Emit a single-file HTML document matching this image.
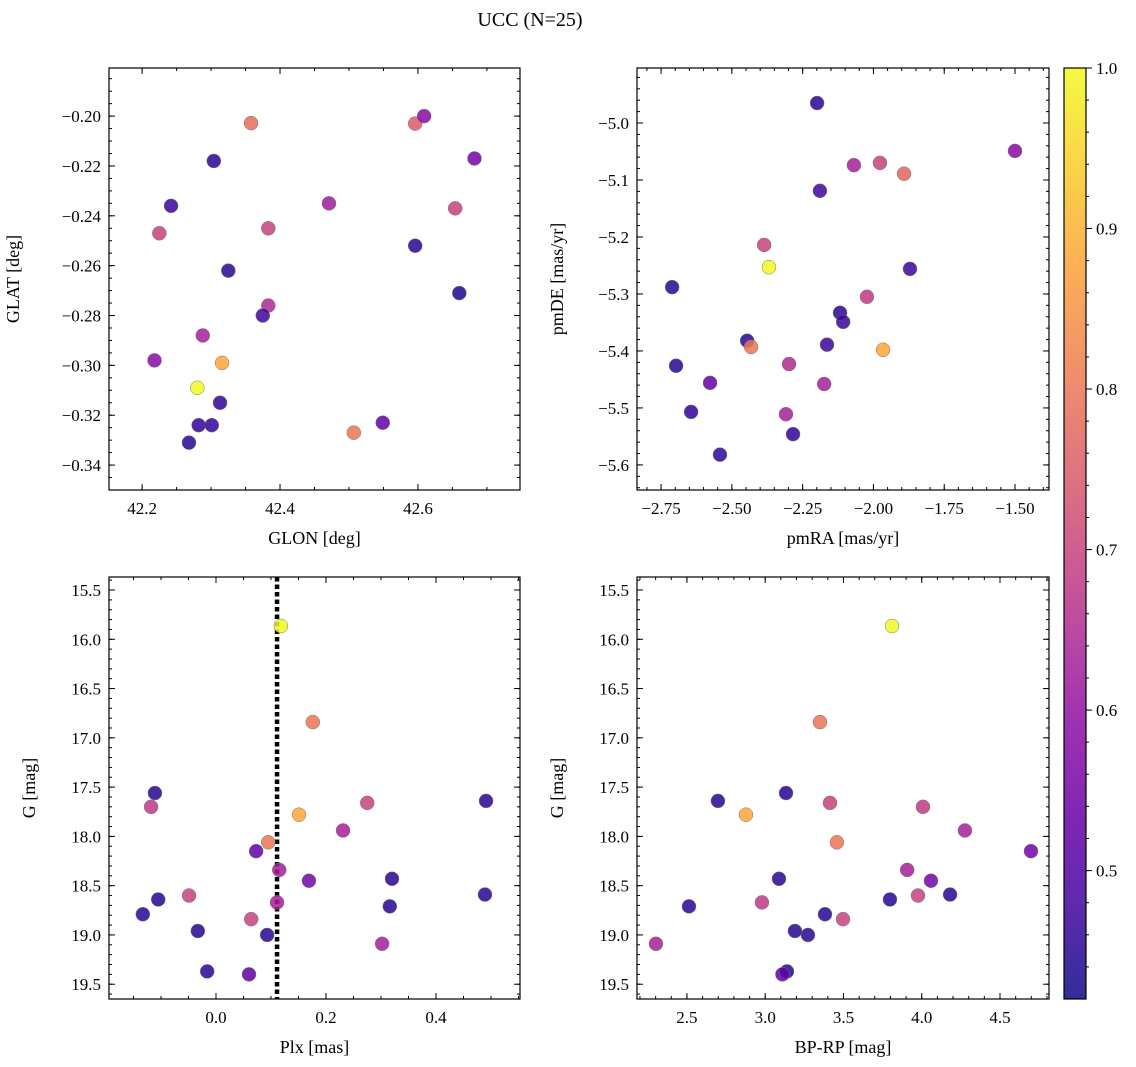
<!DOCTYPE html>
<html><head><meta charset="utf-8"><style>
body{margin:0;background:#fff}
svg{display:block;font-family:"Liberation Serif","DejaVu Serif",serif}
</style></head><body>
<svg id="chart" width="1136" height="1067" viewBox="0 0 1136 1067">
<text x="530" y="26" font-size="20" text-anchor="middle">UCC (N=25)</text>
</svg>
<script>
const probP1 = [0.78,0.75,0.58,0.55,0.45,0.47,0.62,0.7,0.7,0.7,0.45,0.45,0.44,0.65,0.48,0.63,0.58,0.88,1.0,0.46,0.46,0.46,0.8,0.52,0.45];
const glon = [42.358,42.596,42.609,42.682,42.304,42.242,42.471,42.225,42.383,42.654,42.596,42.325,42.660,42.383,42.375,42.288,42.218,42.316,42.280,42.313,42.282,42.301,42.507,42.549,42.268];
const glat = [-0.2028,-0.203,-0.200,-0.217,-0.218,-0.236,-0.235,-0.247,-0.245,-0.237,-0.252,-0.262,-0.271,-0.276,-0.280,-0.288,-0.298,-0.299,-0.309,-0.315,-0.324,-0.324,-0.327,-0.323,-0.331];
const probP2 = [0.45,0.58,0.63,0.7,0.77,0.48,0.7,1.0,0.47,0.45,0.68,0.45,0.47,0.45,0.8,0.47,0.88,0.45,0.65,0.52,0.63,0.63,0.46,0.46,0.46];
const pmra = [-2.199,-1.5,-2.069,-1.977,-1.892,-2.189,-2.386,-2.369,-1.871,-2.711,-2.023,-2.118,-2.107,-2.446,-2.432,-2.164,-1.966,-2.697,-2.298,-2.577,-2.174,-2.309,-2.644,-2.284,-2.542];
const pmde = [-4.965,-5.049,-5.074,-5.070,-5.089,-5.119,-5.214,-5.253,-5.256,-5.288,-5.305,-5.333,-5.349,-5.382,-5.393,-5.389,-5.398,-5.426,-5.423,-5.456,-5.458,-5.511,-5.507,-5.546,-5.582];
const probP3 = [1.0,0.8,0.45,0.68,0.45,0.7,0.88,0.63,0.8,0.52,0.63,0.55,0.45,0.7,0.45,0.45,0.63,0.45,0.45,0.7,0.45,0.45,0.63,0.45,0.52];
const plx = [0.118,0.176,-0.111,-0.118,0.491,0.275,0.151,0.231,0.095,0.073,0.115,0.169,0.32,-0.049,-0.105,0.489,0.111,0.316,-0.133,0.064,-0.033,0.093,0.302,-0.016,0.06];
const gmag3 = [15.865,16.84,17.56,17.70,17.64,17.66,17.78,17.94,18.06,18.15,18.34,18.45,18.43,18.60,18.64,18.59,18.67,18.71,18.79,18.84,18.96,19.0,19.09,19.37,19.40];
const probP4 = [1.0,0.8,0.45,0.45,0.7,0.88,0.68,0.63,0.8,0.55,0.63,0.45,0.55,0.7,0.45,0.45,0.68,0.45,0.45,0.7,0.45,0.45,0.63,0.45,0.52];
const bprp = [3.81,3.35,3.133,2.698,3.414,2.877,4.008,4.276,3.458,4.698,3.907,3.088,4.059,3.976,3.797,4.181,2.979,2.513,3.382,3.497,3.19,3.273,2.302,3.139,3.11];
const gmag4 = [15.865,16.84,17.56,17.64,17.66,17.78,17.70,17.94,18.06,18.15,18.34,18.43,18.45,18.60,18.64,18.59,18.67,18.71,18.79,18.84,18.96,19.0,19.09,19.37,19.40];
const plxLine = 0.111;
const cbTicks = [0.5,0.6,0.7,0.8,0.9,1.0];

const NS='http://www.w3.org/2000/svg';
const svg=document.getElementById('chart');
function el(t,a,p){const e=document.createElementNS(NS,t);for(const k in a)e.setAttribute(k,a[k]);(p||svg).appendChild(e);return e;}
const stops=['#0d0887','#41049d','#6a00a8','#8f0da4','#b12a90','#cc4778','#e16462','#f2844b','#fca636','#fcce25','#f0f921'];
function hex(h){return [1,3,5].map(i=>parseInt(h.substr(i,2),16));}
function plasma(t){t=Math.max(0,Math.min(1,t));const f=t*10,i=Math.min(9,Math.floor(f)),r=f-i;const a=hex(stops[i]),b=hex(stops[i+1]);return 'rgb('+a.map((v,k)=>Math.round(v+(b[k]-v)*r)).join(',')+')';}
const vmin=0.42,vmax=1.0;
function fmt(v,d){const s=Math.abs(v).toFixed(d);return (v< -1e-9?'\u2212':'')+s;}

function panel(o){
  const g=el('g',{},svg);
  
  
  const X=v=>o.x0+(v-o.xmin)/(o.xmax-o.xmin)*(o.x1-o.x0);
  const Y=o.flip ? (v=>o.y0+(v-o.ymin)/(o.ymax-o.ymin)*(o.y1-o.y0)) : (v=>o.y0+(v-o.ymax)/(o.ymin-o.ymax)*(o.y1-o.y0));
  const ticks=(min,max,step)=>{const r=[];for(let v=Math.ceil(min/step-1e-6)*step;v<=max+1e-9;v+=step)r.push(+v.toFixed(6));return r;};
  ticks(o.xmin,o.xmax,o.xminor).forEach(v=>{const x=X(v);el('line',{x1:x,x2:x,y1:o.y1,y2:o.y1-3,stroke:'#000'},g);el('line',{x1:x,x2:x,y1:o.y0,y2:o.y0+3,stroke:'#000'},g);});
  ticks(o.ymin,o.ymax,o.yminor).forEach(v=>{const y=Y(v);el('line',{x1:o.x0,x2:o.x0+3,y1:y,y2:y,stroke:'#000'},g);el('line',{x1:o.x1,x2:o.x1-3,y1:y,y2:y,stroke:'#000'},g);});
  ticks(o.xmin,o.xmax,o.xmajor).forEach(v=>{const x=X(v);el('line',{x1:x,x2:x,y1:o.y1,y2:o.y1-6,stroke:'#000'},g);el('line',{x1:x,x2:x,y1:o.y0,y2:o.y0+6,stroke:'#000'},g);
    const t=el('text',{x:x,y:o.y1+24,'font-size':17,'text-anchor':'middle'},g);t.textContent=fmt(v,o.xd);
    
    });
  ticks(o.ymin,o.ymax,o.ymajor).forEach(v=>{const y=Y(v);el('line',{x1:o.x0,x2:o.x0+6,y1:y,y2:y,stroke:'#000'},g);el('line',{x1:o.x1,x2:o.x1-6,y1:y,y2:y,stroke:'#000'},g);
    const t=el('text',{x:o.x0-8,y:y+6,'font-size':17,'text-anchor':'end'},g);t.textContent=fmt(v,o.yd);
    
    });
  if(o.vline!==undefined){const l=el('line',{x1:X(o.vline),x2:X(o.vline),y1:o.y0,y2:o.y1,stroke:'#000','stroke-width':4.5,'stroke-dasharray':'4.5 3'},g);
    
    }
  o.xs.forEach((xv,i)=>{const c=el('circle',{cx:X(xv),cy:Y(o.ys[i]),r:7,fill:plasma((o.c[i]-vmin)/(vmax-vmin)),'fill-opacity':0.85,stroke:'#777','stroke-width':0.5},g);
    
    });
  const f=el('rect',{x:o.x0,y:o.y0,width:o.x1-o.x0,height:o.y1-o.y0,fill:'none',stroke:'#000','stroke-width':1.2},g);
  
  
  const xl=el('text',{x:(o.x0+o.x1)/2,y:o.y1+54,'font-size':18,'text-anchor':'middle'},g);xl.textContent=o.xlabel;
  
  
  const yx=o.x0-o.ylo, yy=(o.y0+o.y1)/2;
  const yl=el('text',{x:yx,y:yy,'font-size':18,'text-anchor':'middle',transform:`rotate(-90 ${yx} ${yy})`},g);yl.textContent=o.ylabel;
  
  
}
panel({name:'glon-glat-panel',x0:109,x1:520,y0:68,y1:490,xmin:42.152,xmax:42.748,ymin:-0.350,ymax:-0.1807,xmajor:0.2,xminor:0.05,ymajor:0.02,yminor:0.005,xd:1,yd:2,xs:glon,ys:glat,c:probP1,xlabel:'GLON [deg]',ylabel:'GLAT [deg]',ylo:90});
panel({name:'pm-panel',x0:637,x1:1049,y0:68,y1:490,xmin:-2.835,xmax:-1.38,ymin:-5.644,ymax:-4.9035,xmajor:0.25,xminor:0.05,ymajor:0.1,yminor:0.02,xd:2,yd:1,xs:pmra,ys:pmde,c:probP2,xlabel:'pmRA [mas/yr]',ylabel:'pmDE [mas/yr]',ylo:74});
panel({name:'plx-g-panel',x0:109,x1:520,y0:577,y1:999,xmin:-0.1945,xmax:0.5527,ymin:15.368,ymax:19.65,xmajor:0.2,xminor:0.05,ymajor:0.5,yminor:0.1,xd:1,yd:1,xs:plx,ys:gmag3,c:probP3,xlabel:'Plx [mas]',ylabel:'G [mag]',ylo:74,vline:plxLine,flip:true});
panel({name:'cmd-panel',x0:637,x1:1049,y0:577,y1:999,xmin:2.181,xmax:4.813,ymin:15.368,ymax:19.65,xmajor:0.5,xminor:0.1,ymajor:0.5,yminor:0.1,xd:1,yd:1,xs:bprp,ys:gmag4,c:probP4,xlabel:'BP-RP [mag]',ylabel:'G [mag]',ylo:74,flip:true});
const cb=el('g',{});


const defs=el('defs',{},cb);const lg=el('linearGradient',{id:'cbg',x1:0,y1:1,x2:0,y2:0},defs);
for(let i=0;i<=20;i++){el('stop',{offset:i/20,'stop-color':plasma(i/20),'stop-opacity':0.85},lg);}
const cy0=68,cy1=999,cx0=1064,cx1=1086;
el('rect',{x:cx0,y:cy0,width:cx1-cx0,height:cy1-cy0,fill:'url(#cbg)',stroke:'#000','stroke-width':1.2},cb);
const CY=v=>cy0+(vmax-v)/(vmax-vmin)*(cy1-cy0);
for(let v=0.44;v<=1.0001;v+=0.02){const y=CY(v);el('line',{x1:cx1,x2:cx1+3,y1:y,y2:y,stroke:'#000'},cb);}
cbTicks.forEach(v=>{const y=CY(v);el('line',{x1:cx1,x2:cx1+6,y1:y,y2:y,stroke:'#000'},cb);
  const t=el('text',{x:cx1+10,y:y+6,'font-size':17},cb);t.textContent=v.toFixed(1);
  
  });
</script>
</body></html>
